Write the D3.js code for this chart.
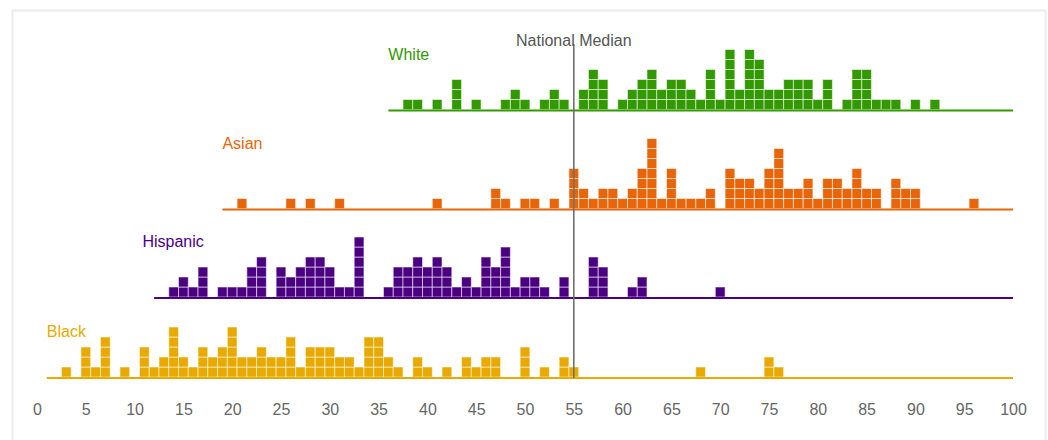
<!DOCTYPE html>
<html><head><meta charset="utf-8">
<script src="https://cdn.jsdelivr.net/npm/d3@7/dist/d3.min.js"></script>
<style>body{margin:0;background:#fff;}svg{display:block;font-family:"Liberation Sans",Arial,sans-serif;}</style>
</head><body><svg id="c" width="1048" height="440"></svg>
<script>
const groups = ["White", "Asian", "Hispanic", "Black"];
const whiteBins   = [38,39,41,43,45,48,49,50,52,53,54,56,57,58,60,61,62,63,64,65,66,67,68,69,70,71,72,73,74,75,76,77,78,79,80,81,83,84,85,86,87,88,90,92];
const whiteCounts = [ 1, 1, 1, 3, 1, 1, 2, 1, 1, 2, 1, 2, 4, 3, 1, 2, 3, 4, 2, 3, 3, 2, 1, 4, 1, 6, 2, 6, 5, 2, 2, 3, 3, 3, 1, 3, 1, 4, 4, 1, 1, 1, 1, 1];
const asianBins   = [21,26,28,31,41,47,48,50,51,53,55,56,57,58,59,60,61,62,63,64,65,66,67,68,69,71,72,73,74,75,76,77,78,79,80,81,82,83,84,85,86,88,89,90,96];
const asianCounts = [ 1, 1, 1, 1, 1, 2, 1, 1, 1, 1, 4, 2, 1, 2, 2, 1, 2, 4, 7, 1, 4, 1, 1, 1, 2, 4, 3, 3, 2, 4, 6, 2, 2, 3, 1, 3, 3, 2, 4, 2, 2, 3, 2, 2, 1];
const hispanicBins   = [14,15,16,17,19,20,21,22,23,25,26,27,28,29,30,31,32,33,36,37,38,39,40,41,42,43,44,45,46,47,48,49,50,51,52,54,57,58,61,62,70];
const hispanicCounts = [ 1, 2, 1, 3, 1, 1, 1, 3, 4, 3, 2, 3, 4, 4, 3, 1, 1, 6, 1, 3, 3, 4, 3, 4, 3, 1, 2, 1, 4, 3, 5, 1, 2, 2, 1, 2, 4, 3, 1, 2, 1];
const blackBins   = [3,5,6,7,9,11,12,13,14,15,16,17,18,19,20,21,22,23,24,25,26,27,28,29,30,31,32,33,34,35,36,37,39,40,42,44,45,46,47,50,52,54,55,68,75,76];
const blackCounts = [1,3,1,4,1, 3, 1, 2, 5, 2, 1, 3, 2, 3, 5, 2, 2, 3, 2, 2, 4, 1, 3, 3, 3, 2, 2, 1, 4, 4, 2, 1, 2, 1, 1, 2, 1, 2, 2, 3, 1, 2, 1, 1, 2, 1];
const nationalMedian = 55;
const xTicks = d3.range(0, 101, 5);

const colors = {White:"#339900", Asian:"#e8650a", Hispanic:"#4b0082", Black:"#e8aa00"};
const baselines = {White:110.5, Asian:209.5, Hispanic:298, Black:378};
const labelAt = {White:36, Asian:19, Hispanic:10.8, Black:1};
const data = {
  White: whiteBins.map((b,i)=>({v:b,n:whiteCounts[i]})),
  Asian: asianBins.map((b,i)=>({v:b,n:asianCounts[i]})),
  Hispanic: hispanicBins.map((b,i)=>({v:b,n:hispanicCounts[i]})),
  Black: blackBins.map((b,i)=>({v:b,n:blackCounts[i]}))
};

const svg = d3.select("#c");
svg.append("rect").attr("x",12.5).attr("y",10.5).attr("width",1033).attr("height",460)
  .attr("fill","none").attr("stroke","#ececec").attr("stroke-width",2);

const x = d3.scaleLinear().domain([0,100]).range([37,1013]);
const step = x(1)-x(0);
const rowH = 10;

groups.forEach(g=>{
  const base = baselines[g];
  const col = colors[g];
  const d = data[g];
  const minV = d3.min(d, e=>e.v);
  const maxN = d3.max(d, e=>e.n);
  const cells = [];
  d.forEach(e=>{ for(let k=0;k<e.n;k++) cells.push({v:e.v,k}); });
  const gg = svg.append("g");
  gg.selectAll("rect").data(cells).join("rect")
    .attr("x", c=>x(c.v)-step/2)
    .attr("y", c=>base-1-(c.k+1)*rowH)
    .attr("width", step)
    .attr("height", rowH)
    .attr("fill", col)
    .attr("stroke", "rgba(255,255,255,0.55)")
    .attr("stroke-width", 1);
  gg.append("line").attr("x1", x(minV-2)).attr("x2", x(100))
    .attr("y1", base).attr("y2", base).attr("stroke", col).attr("stroke-width", 2);
  gg.append("text").attr("x", x(labelAt[g])).attr("y", base - maxN*rowH + 9)
    .attr("fill", col).attr("font-size", 16).text(g);
});

svg.append("line").attr("x1", x(nationalMedian)).attr("x2", x(nationalMedian))
  .attr("y1", 44).attr("y2", 378).attr("stroke", "#707070").attr("stroke-width", 1.6);
svg.append("text").attr("x", x(nationalMedian)).attr("y", 46).attr("text-anchor","middle")
  .attr("fill","#555").attr("font-size",16).text("National Median");

const axis = d3.axisBottom(x).tickValues(xTicks).tickSize(0).tickPadding(0).tickFormat(d3.format("d"));
const ax = svg.append("g").attr("transform","translate(0,404)").call(axis);
ax.select(".domain").remove();
ax.selectAll("text").attr("font-size",16).attr("fill","#666").attr("font-family","Liberation Sans, Arial, sans-serif").attr("dy","0.71em");
</script></body></html>
